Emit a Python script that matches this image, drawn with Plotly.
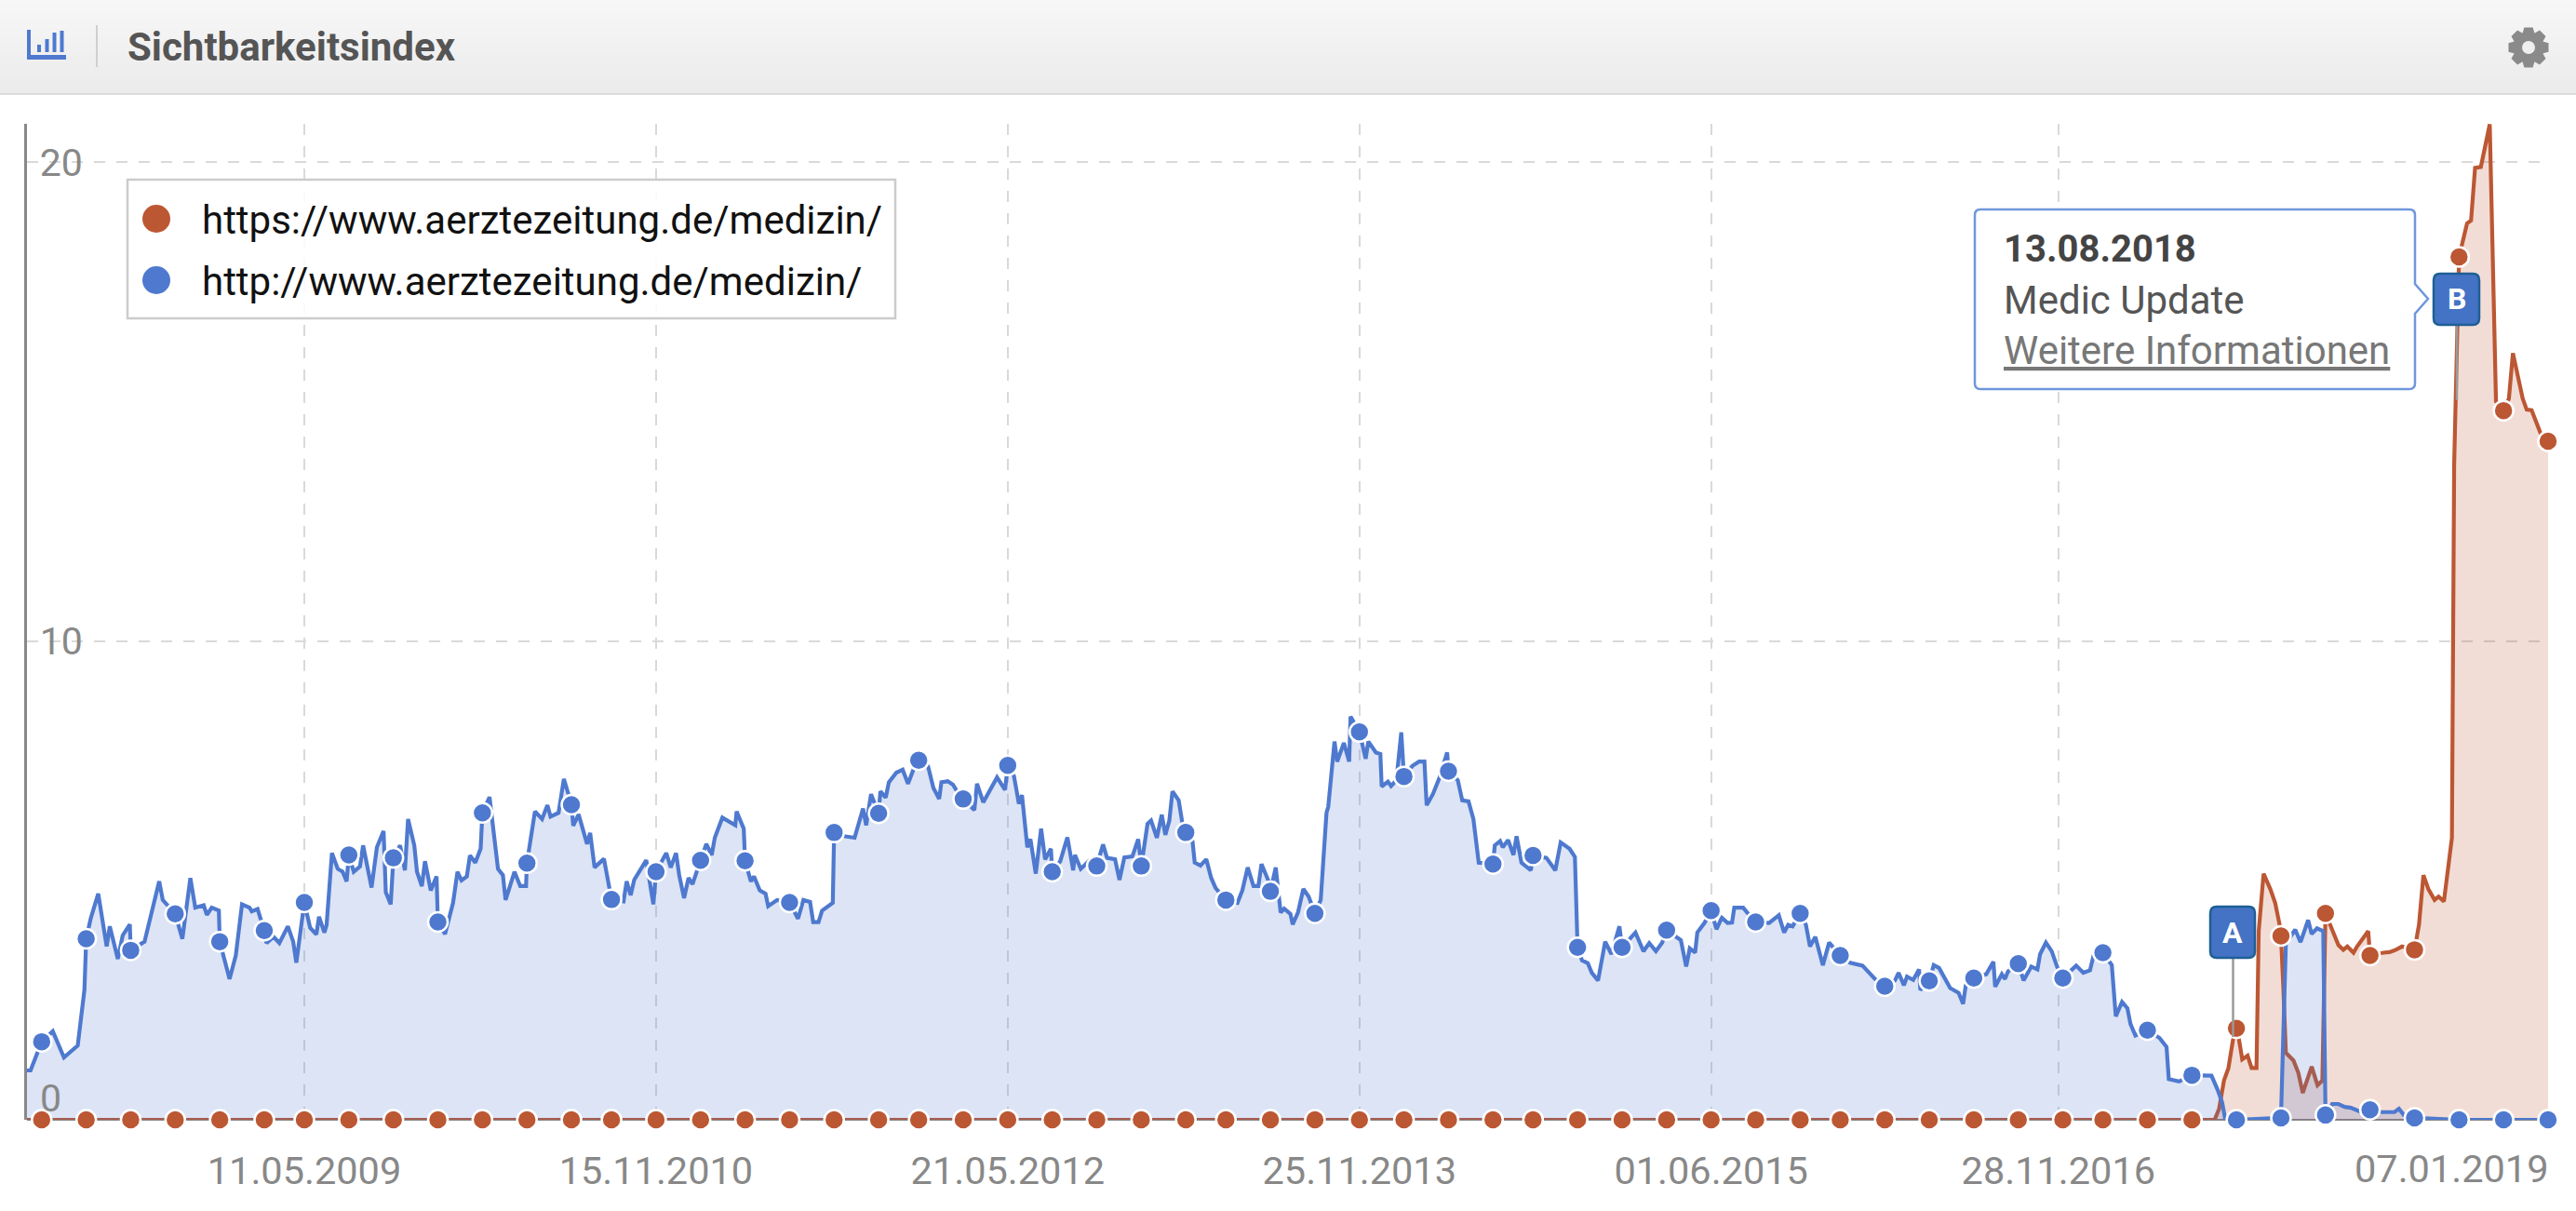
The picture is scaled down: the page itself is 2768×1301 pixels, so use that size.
import math
import pandas as pd
import plotly.graph_objects as go

SERIES_RED = "https://www.aerztezeitung.de/medizin/"
SERIES_BLUE = "http://www.aerztezeitung.de/medizin/"
ORIGIN = "2009-05-11"  # week numbers below count from this Monday

BLUE_WEEKS = [-62.3,-61.5,-59,-56.5,-54,-52,-50.9,-49.4,-49,-48,-46.3,-44.4,-43.7,-41.9,-40.8,-39.2,-39,-35.9,-34.3,-32.6,-31.8,-29,-27.4,-25.6,-24.5,-22.6,-21.9,-20.8,-19.2,-19,-16.8,-15.4,-14,-12.3,-11.8,-10.5,-9,-8.5,-6.9,-5.6,-3.7,-2.5,-1.8,-0.4,0,1.3,2.7,3.3,4.5,5,6.2,7.5,8.6,9.5,10,11.1,12.5,13.2,15.1,16.3,17.8,18.3,19.4,20,21.5,22.6,23.3,24.7,25.3,26.4,27.1,28.4,29.7,30,31.6,33.4,34.4,35.3,36.5,37.2,38.4,39.6,40,41.6,43.5,44.6,45.2,47.2,48.5,49.8,50,51.8,53.4,54.6,55.3,57.1,58.3,60,60.4,61.6,63.5,64.2,65.2,67.3,68.5,69,71.7,72.4,73.3,74.1,76.8,77.4,78.4,79,81.3,82.3,83.5,84.2,85.3,86.3,87.2,89,90.3,91.5,92.2,93.9,96.8,97.1,98.7,99,100.3,101,102.3,103.6,104.2,106.2,109,110.9,112.1,113.6,114.3,115.5,116.3,118.7,119,121.5,123.6,125.5,126.2,127.3,129,129.4,130.6,131.3,133,134.4,135.6,136.8,138,140.1,141.3,142.6,143.1,144.5,145.7,146.6,148,150.5,151.1,152.5,155.6,157.4,158,159.4,160.5,161.2,162.4,163.1,164.3,165.5,166.4,167.7,168,169.8,171.4,172.7,173.1,174.4,176.2,178,179.4,180.3,182.1,183.1,184.2,186,187.3,188,189.4,190.2,191.5,192.6,193.4,194.3,195,196.4,197.2,198,199.5,200,201.3,202.6,203.7,204.7,207,209.6,210.7,211.9,213.2,214.3,215,216.6,217,218.2,219.3,220.1,221.5,222,223.2,224.4,225.6,227,228.3,229.6,230,231.4,232,233.5,234.7,235,237,238.4,239,240.7,241.7,242,243.4,244.1,245.3,246.4,247,248.9,250.4,251.6,252.1,253.5,255,256.7,257,259.1,260.1,261.5,262.6,263.8,267,267.4,268.6,269.2,270.4,271.6,272.3,273.4,275.5,276,279,281,282.2,284.2,285.4,286,287,288.3,289.2,290.6,292.2,293.6,295.4,296,299,300.8,302.1,303.6,305,306,309.2,310.4,311.2,312.4,312.9,314.5,316,317.2,318.4,319.7,320.7,321.2,323.2,324.6,326,329,331.2,332.4,333.3,334.3,336,337.3,338.2,339.4,341.1,342.5,345,347.2,350,352.8,355,357.3,358.1,359.3,360,361.4,362.7,363,365,366,367.2,369.7,371.6,372.6,373.2,375,377.8,379.4,379.8,381.3,382,382.7,385,386.2,387.9,389.3,389.9,391.2,392.5,393.7,395,398,399.6,401.1,401.9,404,406,406.9,408.3,409.5,410.2,411.3,414,416.7,418.3,418.8,421.1,424,427,428.4,429.8,430.8,431.5,434,444,445.1,447.2,448.4,450.1,450.9,452.1,453.5,454,455.5,456.9,458.3,459.7,461.8,464,466.7,469.5,470.5,471.6,474,484,494,504]
BLUE_VALUES = [1.03,1.03,1.63,1.85,1.30,1.46,1.55,2.71,3.78,4.2,4.72,3.62,4.04,3.36,3.85,4.08,3.54,3.72,4.37,4.98,4.59,4.30,3.78,5.05,4.43,4.48,4.28,4.43,4.37,3.72,2.94,3.43,4.50,4.43,4.35,4.40,3.95,3.69,3.82,3.69,4.04,3.72,3.28,4.27,4.54,4.01,3.87,4.24,3.91,4.07,5.57,5.24,5.18,4.98,5.53,5.18,5.29,5.73,4.85,5.69,6.03,4.75,4.50,5.47,5.73,5.21,6.28,5.73,5.18,4.88,5.40,4.79,5.08,4.13,3.88,4.53,5.18,5.0,5.08,5.52,5.37,5.66,6.41,6.74,5.24,5.11,4.59,5.18,4.88,4.88,5.36,6.44,6.28,6.57,6.33,6.41,7.12,6.58,6.14,6.38,5.76,5.99,5.27,5.45,4.82,4.60,4.56,4.98,4.69,5.01,5.42,5.05,4.50,5.18,5.57,5.27,5.57,5.11,4.63,5.05,4.92,5.42,5.76,5.53,5.89,6.31,6.15,6.44,6.08,5.41,4.98,5.08,4.79,4.72,4.46,4.59,4.54,4.20,4.59,4.55,4.13,4.13,4.37,4.53,6.0,5.92,5.89,6.50,6.15,6.80,6.40,6.86,6.73,7.05,7.25,7.31,7.02,7.31,7.51,7.38,6.93,6.70,7.05,7.07,7.0,6.86,6.70,6.47,7.02,6.63,7.15,6.89,7.40,7.18,6.60,6.78,5.69,5.86,5.14,6.08,5.44,5.66,5.18,5.40,5.90,5.21,5.53,5.24,5.40,5.30,5.75,5.47,5.44,5.01,5.48,5.50,5.86,5.30,6.18,6.25,5.89,6.37,5.95,6.25,6.86,6.67,6.21,6.0,5.82,5.37,5.31,5.44,5.05,4.84,4.59,4.53,4.79,5.27,4.88,4.88,5.34,4.98,4.77,5.27,4.33,4.41,4.30,4.08,4.33,4.82,4.66,4.31,4.59,6.41,6.54,7.90,7.48,7.87,7.48,8.42,8.10,7.54,7.90,7.67,7.64,6.96,7.06,6.97,7.09,8.09,7.17,7.39,7.48,7.48,6.57,6.80,7.15,7.67,7.28,7.09,6.67,6.65,6.28,5.37,5.34,5.73,5.82,5.69,5.84,5.53,5.92,5.37,5.21,5.52,5.47,5.21,5.79,5.66,5.49,3.60,3.33,3.27,3.07,2.91,3.72,3.46,4.04,3.60,3.91,3.52,3.69,3.52,3.70,3.96,3.75,3.20,3.58,3.49,3.91,4.11,4.37,3.98,4.22,4.11,4.12,4.43,4.43,4.27,4.13,4.11,4.27,3.91,4.07,4.04,4.31,4.07,3.62,3.82,3.23,3.70,3.43,3.28,3.22,2.94,2.79,2.91,3.07,2.81,2.99,2.92,3.14,2.71,2.90,3.23,3.17,2.75,2.65,2.42,2.81,2.96,3.04,3.30,2.78,3.04,2.94,3.10,3.26,2.91,3.20,3.14,3.46,3.70,3.52,3.20,2.96,3.22,3.07,3.12,3.43,3.49,3.23,2.16,2.46,2.33,2.0,1.76,1.87,1.71,1.52,0.85,0.80,0.93,0.92,0.92,0.62,0.36,0,0,0.04,3.68,3.97,3.71,4.17,3.88,4.0,3.94,0.10,0.33,0.33,0.27,0.25,0.17,0.21,0.16,0.16,0.23,0.10,0.04,0,0,0]

RED_WEEKS = [-62.3,429.1,430.1,431.2,432.2,433.2,434,434.6,435.3,436.5,437.4,438.5,439,440.1,441.6,442.7,443.7,444,444.5,445.1,446.8,447.9,448.9,450.9,452.2,453.3,454,455.2,456.9,458,458.9,460.3,461.1,463.6,464,467,468.4,469.8,471.2,474,475,476,477.1,478.5,479.4,480.6,481.7,482.4,482.9,484,485.8,486.7,487.6,488.9,490.9,491.8,492.3,494,495.2,496.1,498.3,499.2,500.3,502.3,504]
RED_VALUES = [0,0,0.23,0.82,1.08,1.66,1.91,1.66,1.26,1.34,1.08,1.08,3.94,5.14,4.82,4.53,4.07,3.84,2.83,1.40,1.24,0.98,0.56,1.11,0.72,0.82,4.31,4.04,3.65,3.55,3.62,3.49,3.62,3.94,3.43,3.49,3.50,3.55,3.62,3.55,4.07,5.11,4.82,4.59,4.66,4.56,5.31,5.89,13.66,18.02,18.72,18.78,19.88,19.9,20.79,16.9,15.0,14.81,15.06,16.01,15.06,14.83,14.82,14.34,14.17]

MARK_WEEKS = [-59,-49,-39,-29,-19,-9,0,10,20,30,40,50,60,69,79,89,99,109,119,129,138,148,158,168,178,188,198,207,217,227,237,247,257,267,276,286,296,306,316,326,336,345,355,365,375,385,395,404,414,424,434,444,454,464,474,484,494,504]
BLUE_MARKS = [1.63,3.78,3.54,4.30,3.72,3.95,4.54,5.53,5.47,4.13,6.41,5.36,6.58,4.60,5.18,5.42,5.41,4.54,6.0,6.40,7.51,6.70,7.40,5.18,5.30,5.30,6.0,4.59,4.77,4.31,8.10,7.17,7.28,5.34,5.52,3.60,3.60,3.96,4.37,4.13,4.31,3.43,2.79,2.90,2.96,3.26,2.96,3.49,1.87,0.93,0,0.04,0.10,0.21,0.04,0,0,0]
RED_MARKS = [0,0,0,0,0,0,0,0,0,0,0,0,0,0,0,0,0,0,0,0,0,0,0,0,0,0,0,0,0,0,0,0,0,0,0,0,0,0,0,0,0,0,0,0,0,0,0,0,0,0,1.91,3.84,4.31,3.43,3.55,18.02,14.81,14.17]

X_TICKS = ["2009-05-11","2010-11-15","2012-05-21","2013-11-25","2015-06-01","2016-11-28","2019-01-07"]
X_LABELS = ["11.05.2009","15.11.2010","21.05.2012","25.11.2013","01.06.2015","28.11.2016",""]
LAST_LABEL = "07.01.2019"
Y_TICKS = [10, 20]
Y_LABELS = ["10", "20"]

assert len(BLUE_WEEKS) == len(BLUE_VALUES), (len(BLUE_WEEKS), len(BLUE_VALUES))
assert len(RED_WEEKS) == len(RED_VALUES), (len(RED_WEEKS), len(RED_VALUES))
assert len(MARK_WEEKS) == len(BLUE_MARKS) == len(RED_MARKS)

BLUE = "#4E79CF"
RED = "#BC5733"
FONT = "Roboto"
W, H = 2768, 1301
L, R, T, B = 29, 2738, 133, 1203


def dates(weeks):
    return pd.Timestamp(ORIGIN) + pd.to_timedelta([w * 7 for w in weeks], unit="D")


def px(x):
    return (x - L) / (R - L)


def py(y):
    return (B - y) / (B - T)


def rect(x0, y0, x1, y1, color, layer="above", line=None, lw=0):
    return dict(type="rect", xref="paper", yref="paper", x0=px(x0), x1=px(x1), y0=py(y0), y1=py(y1),
                fillcolor=color, line=dict(width=lw, color=line or color), layer=layer)


def round_path(x0, y0, x1, y1, r, pointer=None):
    pts = [f"M{px(x0 + r)},{py(y0)}", f"L{px(x1 - r)},{py(y0)}", f"Q{px(x1)},{py(y0)} {px(x1)},{py(y0 + r)}"]
    if pointer:
        tip_x, tip_y, h = pointer
        pts += [f"L{px(x1)},{py(tip_y - h)}", f"L{px(tip_x)},{py(tip_y)}", f"L{px(x1)},{py(tip_y + h)}"]
    pts += [f"L{px(x1)},{py(y1 - r)}", f"Q{px(x1)},{py(y1)} {px(x1 - r)},{py(y1)}",
            f"L{px(x0 + r)},{py(y1)}", f"Q{px(x0)},{py(y1)} {px(x0)},{py(y1 - r)}",
            f"L{px(x0)},{py(y0 + r)}", f"Q{px(x0)},{py(y0)} {px(x0 + r)},{py(y0)}", "Z"]
    return " ".join(pts)


def path(d, fill, line, lw, layer="above"):
    return dict(type="path", xref="paper", yref="paper", path=d, fillcolor=fill,
                line=dict(color=line, width=lw), layer=layer)


def ann(x, y, text, size, color, anchor="left", family=FONT):
    return dict(xref="paper", yref="paper", x=px(x), y=py(y), text=text, showarrow=False, xanchor=anchor,
                yanchor="middle", font=dict(family=family, size=size, color=color), borderpad=0, borderwidth=0)


def circle(cx, cy, r, color):
    return dict(type="circle", xref="paper", yref="paper", x0=px(cx - r), x1=px(cx + r), y0=py(cy + r), y1=py(cy - r),
                fillcolor=color, line=dict(width=0), layer="above")


def gear(cx, cy, outer, root, teeth=8):
    pts = []
    step = 2 * math.pi / teeth
    for i in range(teeth):
        a = i * step
        for da, r in ((-0.30, root), (-0.17, outer), (0.17, outer), (0.30, root)):
            pts.append((cx + r * math.cos(a + da * step * 1.6), cy + r * math.sin(a + da * step * 1.6)))
    return "M" + " L".join(f"{px(x)},{py(y)}" for x, y in pts) + " Z"


fig = go.Figure()
fig.add_trace(go.Scatter(x=dates(RED_WEEKS), y=RED_VALUES, name=SERIES_RED, mode="lines", cliponaxis=False,
                         line=dict(color=RED, width=4.2), fill="tozeroy", fillcolor="rgba(188,87,51,0.2)"))
fig.add_trace(go.Scatter(x=dates(BLUE_WEEKS), y=BLUE_VALUES, name=SERIES_BLUE, mode="lines", cliponaxis=False,
                         line=dict(color=BLUE, width=4.2), fill="tozeroy", fillcolor="rgba(78,121,207,0.2)"))
for values, color, name in ((RED_MARKS, RED, SERIES_RED), (BLUE_MARKS, BLUE, SERIES_BLUE)):
    fig.add_trace(go.Scatter(x=dates(MARK_WEEKS), y=values, name=name, mode="markers", cliponaxis=False,
                             marker=dict(color=color, size=21, line=dict(color="white", width=2.5))))

shapes = []
# header band
steps = 20
for i in range(steps):
    c = 247 - round(12 * i / (steps - 1))
    shapes.append(rect(0, i * 5, W, (i + 1) * 5, f"rgb({c},{c},{c})", layer="below"))
shapes.append(rect(0, 100, W, 102, "#DCDCDC", layer="below"))
shapes.append(rect(103, 27, 105, 72, "#CFCFCF", layer="below"))
# chart icon
ICON = "#4E79CF"
shapes += [rect(29, 32, 33, 64, ICON), rect(29, 59, 71, 64, ICON)]
for bx, by in ((40, 48), (48.5, 42), (56.5, 35), (64.5, 33)):
    shapes.append(rect(bx, by, bx + 4, 56, ICON))
# gear icon
shapes.append(path(gear(2717, 51, 22, 17), "#8A8A8A", "#8A8A8A", 0))
shapes.append(circle(2717, 51, 7, "#EFEFEF"))
# white patches behind the y labels
shapes.append(rect(40, 174 - 4, 96, 174 + 4, "white", layer="below"))
shapes.append(rect(40, 688.5 - 4, 96, 688.5 + 4, "white", layer="below"))
# legend box
shapes.append(rect(137, 193, 962, 342, "rgba(255,255,255,0.85)", line="#CCCCCC", lw=2.5))
shapes.append(circle(168, 235, 15, RED))
shapes.append(circle(168, 301, 15, BLUE))
# flags
STEM = "#9A9A9A"
shapes.append(dict(type="line", xref="paper", yref="paper", x0=px(2399.5), x1=px(2399.5), y0=py(1030), y1=py(1114),
                   line=dict(color=STEM, width=2.5), layer="above"))
shapes.append(dict(type="line", xref="paper", yref="paper", x0=px(2640), x1=px(2640), y0=py(349), y1=py(430),
                   line=dict(color=STEM, width=2.5), layer="above"))
FLAG = "#4472C4"
FLAG_EDGE = "#1E5F96"
shapes.append(path(round_path(2375, 974, 2423, 1029, 7), FLAG, FLAG_EDGE, 2.5))
shapes.append(path(round_path(2615, 294, 2664, 349, 7), FLAG, FLAG_EDGE, 2.5))
# tooltip
shapes.append(path(round_path(2122, 225, 2595, 418, 6, pointer=(2609, 321, 16)), "white", "#7097DC", 2.5))

annotations = [
    ann(137, 51, "<b>Sichtbarkeitsindex</b>", 42, "#555555"),
    ann(217, 236, SERIES_RED, 42, "#111111"),
    ann(217, 302, SERIES_BLUE, 42, "#111111"),
    ann(43, 1180, "0", 41, "#888888"),
    ann(2738, 1255, LAST_LABEL, 41.5, "#888888", "right"),
    ann(2399, 1002, "<b>A</b>", 32, "white", "center"),
    ann(2640, 321, "<b>B</b>", 32, "white", "center"),
    ann(2153, 268, "<b>13.08.2018</b>", 40, "#444444"),
    ann(2153, 322, "Medic Update", 42, "#555555"),
    ann(2153, 377, "<u>Weitere Informationen</u>", 42, "#777777"),
]

fig.update_layout(
    width=W, height=H, autosize=False, showlegend=False,
    margin=dict(l=L, r=W - R, t=T, b=H - B, pad=0),
    paper_bgcolor="white", plot_bgcolor="white",
    font=dict(family=FONT, size=40, color="#888888"),
    shapes=shapes, annotations=annotations,
    xaxis=dict(type="date", range=[dates([-62.3])[0], dates([504])[0]], tickvals=list(X_TICKS), ticktext=X_LABELS,
               tickmode="array", showgrid=True, gridcolor="#D9D9D9", gridwidth=2, griddash="12px,12px",
               showline=False, zeroline=False, ticks="outside", ticklen=18, tickcolor="rgba(0,0,0,0)",
               tickfont=dict(family=FONT, size=41.5, color="#888888")),
    yaxis=dict(range=[0, 20.8], tickmode="array", tickvals=Y_TICKS, ticktext=Y_LABELS, showgrid=True,
               gridcolor="#D9D9D9", gridwidth=2, griddash="12px,12px", zeroline=True, zerolinecolor="#888888",
               zerolinewidth=2, showline=True, linecolor="#888888", linewidth=3, ticks="",
               ticklabelposition="inside", ticklabelstandoff=19,
               tickfont=dict(family=FONT, size=41, color="#888888")),
)

fig.write_html("out.html", config=dict(displayModeBar=False),
               post_script="document.body.style.margin='0';document.documentElement.style.overflow='hidden';")
